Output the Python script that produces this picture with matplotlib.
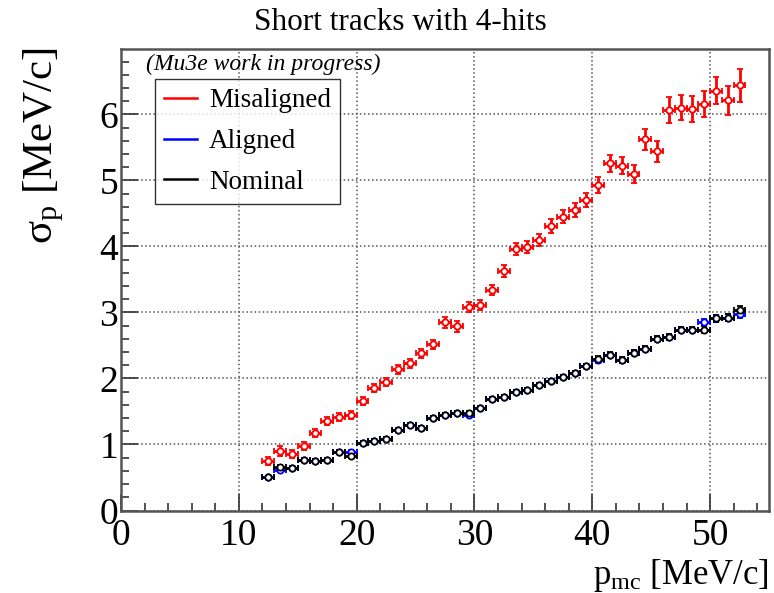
import matplotlib
matplotlib.use("Agg")
import matplotlib.pyplot as plt
from matplotlib.ticker import MultipleLocator
from matplotlib.lines import Line2D

plt.rcParams['font.family'] = ['Liberation Serif', 'DejaVu Serif']
plt.rcParams['mathtext.fontset'] = 'custom'
plt.rcParams['mathtext.rm'] = 'Liberation Serif'
plt.rcParams['mathtext.it'] = 'Liberation Serif:italic'

# bin centres in p_mc [MeV/c]
p_mc = [12.5, 13.5, 14.5, 15.5, 16.5, 17.5, 18.5, 19.5, 20.5, 21.5,
        22.5, 23.5, 24.5, 25.5, 26.5, 27.5, 28.5, 29.5, 30.5, 31.5,
        32.5, 33.5, 34.5, 35.5, 36.5, 37.5, 38.5, 39.5, 40.5, 41.5,
        42.5, 43.5, 44.5, 45.5, 46.5, 47.5, 48.5, 49.5, 50.5, 51.5, 52.5]
p_err = [0.5] * len(p_mc)

misaligned = [0.75, 0.90, 0.86, 0.98, 1.18, 1.36, 1.41, 1.44, 1.66, 1.86,
              1.95, 2.14, 2.23, 2.38, 2.52, 2.85, 2.79, 3.08, 3.11, 3.34,
              3.63, 3.96, 3.99, 4.10, 4.31, 4.45, 4.55, 4.70, 4.93, 5.26,
              5.22, 5.10, 5.62, 5.44, 6.07, 6.10, 6.08, 6.16, 6.36, 6.21, 6.44]
misaligned_err = [0.06, 0.07, 0.06, 0.06, 0.06, 0.06, 0.06, 0.06, 0.06, 0.06,
                  0.06, 0.07, 0.07, 0.07, 0.07, 0.08, 0.08, 0.08, 0.08, 0.08,
                  0.09, 0.09, 0.09, 0.09, 0.10, 0.10, 0.10, 0.11, 0.12, 0.13,
                  0.13, 0.14, 0.16, 0.16, 0.20, 0.19, 0.20, 0.20, 0.20, 0.22, 0.25]

aligned = [0.50, 0.62, 0.65, 0.77, 0.75, 0.76, 0.89, 0.88, 1.02, 1.05,
           1.08, 1.22, 1.30, 1.25, 1.40, 1.44, 1.47, 1.45, 1.55, 1.69,
           1.72, 1.80, 1.82, 1.90, 1.96, 2.02, 2.09, 2.19, 2.28, 2.36,
           2.28, 2.39, 2.45, 2.60, 2.63, 2.74, 2.74, 2.85, 2.91, 2.92, 2.98]
aligned_err = [0.03, 0.04, 0.03, 0.03, 0.03, 0.03, 0.03, 0.04, 0.03, 0.03,
               0.03, 0.03, 0.03, 0.03, 0.03, 0.03, 0.03, 0.04, 0.03, 0.03,
               0.03, 0.03, 0.03, 0.03, 0.03, 0.03, 0.03, 0.03, 0.04, 0.04,
               0.04, 0.04, 0.04, 0.04, 0.04, 0.04, 0.04, 0.05, 0.05, 0.05, 0.06]

nominal = [0.50, 0.66, 0.65, 0.77, 0.75, 0.76, 0.89, 0.82, 1.02, 1.05,
           1.08, 1.22, 1.30, 1.25, 1.40, 1.44, 1.47, 1.47, 1.55, 1.69,
           1.72, 1.80, 1.82, 1.90, 1.96, 2.02, 2.09, 2.19, 2.30, 2.36,
           2.28, 2.39, 2.45, 2.60, 2.63, 2.74, 2.74, 2.74, 2.91, 2.92, 3.04]
nominal_err = [0.03, 0.03, 0.03, 0.03, 0.03, 0.03, 0.03, 0.03, 0.03, 0.03,
               0.03, 0.03, 0.03, 0.03, 0.03, 0.03, 0.03, 0.03, 0.03, 0.03,
               0.03, 0.03, 0.03, 0.03, 0.03, 0.03, 0.03, 0.03, 0.04, 0.04,
               0.04, 0.04, 0.04, 0.04, 0.04, 0.04, 0.04, 0.05, 0.05, 0.05, 0.06]

fig = plt.figure(figsize=(7.74, 5.93), dpi=100)
ax = fig.add_axes([121 / 774, 82.5 / 593, 648 / 774, 461.5 / 593])

def draw(y, yerr, col, lab):
    ax.errorbar(p_mc, y, xerr=p_err, yerr=yerr, fmt='o', color=col,
                ms=4.5, mfc='white', mec=col, mew=1.3, elinewidth=2.0,
                capsize=2.5, capthick=2.0, label=lab)

draw(misaligned, misaligned_err, 'red', 'Misaligned')
draw(aligned, aligned_err, 'blue', 'Aligned')
draw(nominal, nominal_err, 'black', 'Nominal')

ax.set_xlim(0, 55)
ax.set_ylim(0, 6.99)
ax.xaxis.set_major_locator(MultipleLocator(10))
ax.xaxis.set_minor_locator(MultipleLocator(2))
ax.yaxis.set_major_locator(MultipleLocator(1))
ax.yaxis.set_minor_locator(MultipleLocator(0.2))
ax.tick_params(which='both', direction='in', top=False, right=False,
               labelsize=27, color='#333333', width=1.2)
ax.tick_params(which='major', length=12)
ax.tick_params(which='minor', length=6)
ax.tick_params(axis='x', pad=6)
ax.tick_params(axis='y', pad=2)
ax.grid(True, which='major', linestyle=':', color='#555555', linewidth=1.1)
for s in ax.spines.values():
    s.set_color('#555555')
    s.set_linewidth(1.8)

handles = [Line2D([], [], color=c, lw=1.8) for c in ['red', 'blue', 'black']]
leg = ax.legend(handles, ['Misaligned', 'Aligned', 'Nominal'], loc='upper left',
                bbox_to_anchor=(0.052, 0.935), fontsize=19.5, frameon=True,
                fancybox=False, edgecolor='black', handlelength=1.2,
                borderpad=0.35, labelspacing=0.58, handletextpad=0.45,
                borderaxespad=0.0)
leg.get_frame().set_linewidth(1.0)

ax.text(0.038, 0.99, '(Mu3e work in progress)', transform=ax.transAxes,
        fontsize=17, style='italic', ha='left', va='top')

fig.text(400 / 774, 1 - 22 / 593, 'Short tracks with 4-hits', fontsize=22.5,
         ha='center', va='center')
ax.set_ylabel('σ$_\\mathrm{p}$ [MeV/c]', fontsize=31)
ax.yaxis.set_label_coords(-0.085, 1.005)
ax.yaxis.label.set_horizontalalignment('right')
ax.set_xlabel('p$_\\mathrm{mc}$ [MeV/c]', fontsize=25)
ax.xaxis.set_label_coords(1.0, -0.1)
ax.xaxis.label.set_horizontalalignment('right')

fig.savefig('out.png', dpi=100)
